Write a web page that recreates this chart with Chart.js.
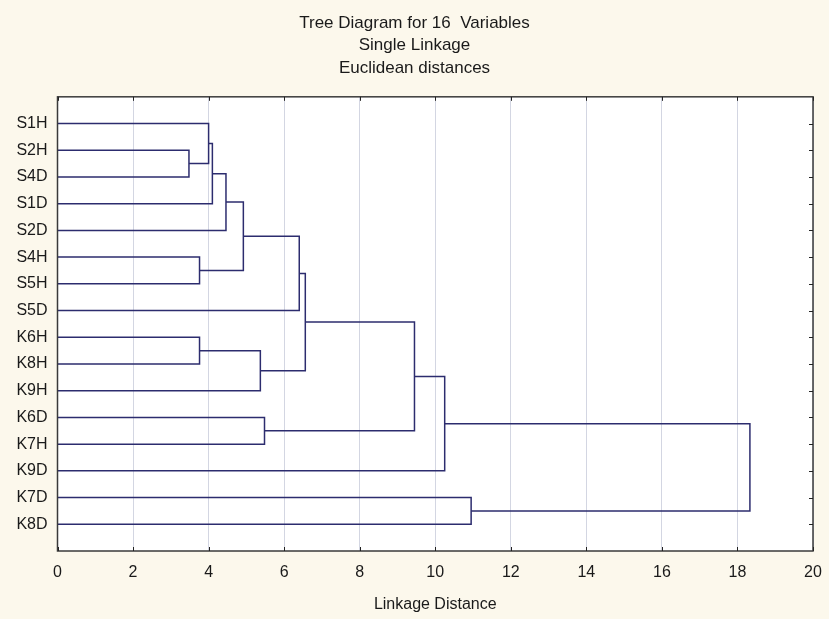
<!DOCTYPE html>
<html>
<head>
<meta charset="utf-8">
<script src="https://cdn.jsdelivr.net/npm/chart.js@4/dist/chart.umd.min.js"></script>
<style>
  html, body { margin: 0; padding: 0; background: #FCF8EC; }
  canvas { display: block; }
</style>
</head>
<body>
<canvas id="c" width="829" height="619"></canvas>
<script>
// Leaves (top to bottom)
const leafLabels = ['S1H','S2H','S4D','S1D','S2D','S4H','S5H','S5D','K6H','K8H','K9H','K6D','K7H','K9D','K7D','K8D'];
// Merge steps: cluster ids 0..15 are leaves, merge k creates cluster 16+k
const mergeA      = [1,  0,   17,  18,  5,   19,  21,  8,   23,  22,  11,  25,  27,   14,    28];
const mergeB      = [2,  16,  3,   4,   6,   20,  7,   9,   10,  24,  12,  26,  13,   15,    29];
const mergeHeight = [3.48,4.00,4.10,4.46,3.76,4.92,6.40,3.76,5.37,6.56,5.48,9.45,10.25,10.95,18.33];
// Axis ticks
const xTicks = [0,2,4,6,8,10,12,14,16,18,20];
const titleLines = ['Tree Diagram for 16  Variables','Single Linkage','Euclidean distances'];
const xTitle = 'Linkage Distance';

// node positions (x = linkage distance, y = row)
const nodeX = leafLabels.map(() => 0);
const nodeY = leafLabels.map((_, i) => i);
mergeA.forEach((a, k) => {
  const b = mergeB[k];
  nodeX.push(mergeHeight[k]);
  nodeY.push((nodeY[a] + nodeY[b]) / 2);
});

const LINE = '#2C2C6E';
const datasets = mergeA.map((a, k) => {
  const b = mergeB[k], h = mergeHeight[k];
  return {
    data: [
      {x: nodeX[a], y: nodeY[a]},
      {x: h, y: nodeY[a]},
      {x: h, y: nodeY[b]},
      {x: nodeX[b], y: nodeY[b]}
    ],
    borderColor: LINE,
    borderWidth: 1.5,
    pointRadius: 0,
    fill: false,
    tension: 0
  };
});

const FONT = "'Liberation Sans', Arial, sans-serif";

const framePlugin = {
  id: 'frame',
  beforeDraw(chart) {
    const {ctx, chartArea: a} = chart;
    ctx.save();
    ctx.fillStyle = '#FFFFFF';
    ctx.fillRect(a.left, a.top, a.right - a.left, a.bottom - a.top);
    ctx.restore();
  },
  afterDraw(chart) {
    const {ctx, chartArea: a, scales} = chart;
    ctx.save();
    ctx.strokeStyle = '#3A3A3A';
    ctx.lineWidth = 1.5;
    ctx.strokeRect(a.left, a.top, a.right - a.left, a.bottom - a.top);
    ctx.lineWidth = 1;
    ctx.strokeStyle = '#222';
    ctx.beginPath();
    xTicks.forEach(v => {
      const px = Math.round(scales.x.getPixelForValue(v)) + 0.5;
      ctx.moveTo(px, a.top); ctx.lineTo(px, a.top + 4);
      ctx.moveTo(px, a.bottom); ctx.lineTo(px, a.bottom - 4);
    });
    leafLabels.forEach((_, i) => {
      const py = Math.round(scales.y.getPixelForValue(i)) + 0.5;
      ctx.moveTo(a.right, py); ctx.lineTo(a.right - 4, py);
    });
    ctx.stroke();
    ctx.restore();
  }
};

new Chart(document.getElementById('c'), {
  type: 'line',
  data: { datasets },
  plugins: [framePlugin],
  options: {
    responsive: false,
    animation: false,
    parsing: false,
    layout: { padding: { left: 0, right: 0, top: 0, bottom: 0 } },
    plugins: {
      legend: { display: false },
      tooltip: { enabled: false },
      title: {
        display: true,
        text: titleLines,
        color: '#1A1A1A',
        font: { family: FONT, size: 17, weight: 'normal', lineHeight: 1.32 },
        padding: { top: 11.75, bottom: 17.75 }
      }
    },
    scales: {
      x: {
        type: 'linear',
        min: 0, max: 20,
        afterFit: s => { s.height = 68; s.paddingRight = 16; },
        afterBuildTicks: s => { s.ticks = xTicks.map(v => ({value: v})); },
        ticks: { color: '#1A1A1A', font: { family: FONT, size: 16 }, padding: 12, maxRotation: 0 },
        grid: { color: '#D3D6E2', lineWidth: 1, drawTicks: false },
        border: { display: false },
        title: { display: true, text: xTitle, color: '#1A1A1A', font: { family: FONT, size: 16 }, padding: { top: 0, bottom: 5 } }
      },
      y: {
        type: 'linear',
        reverse: true,
        min: -1, max: 16,
        afterFit: s => { s.width = 57.5; },
        afterBuildTicks: s => { s.ticks = leafLabels.map((_, i) => ({value: i})); },
        ticks: { color: '#1A1A1A', font: { family: FONT, size: 16 }, padding: 10, autoSkip: false,
                 callback: v => leafLabels[v] ?? '' },
        grid: { display: false, drawTicks: false },
        border: { display: false }
      }
    }
  }
});
</script>
</body>
</html>
